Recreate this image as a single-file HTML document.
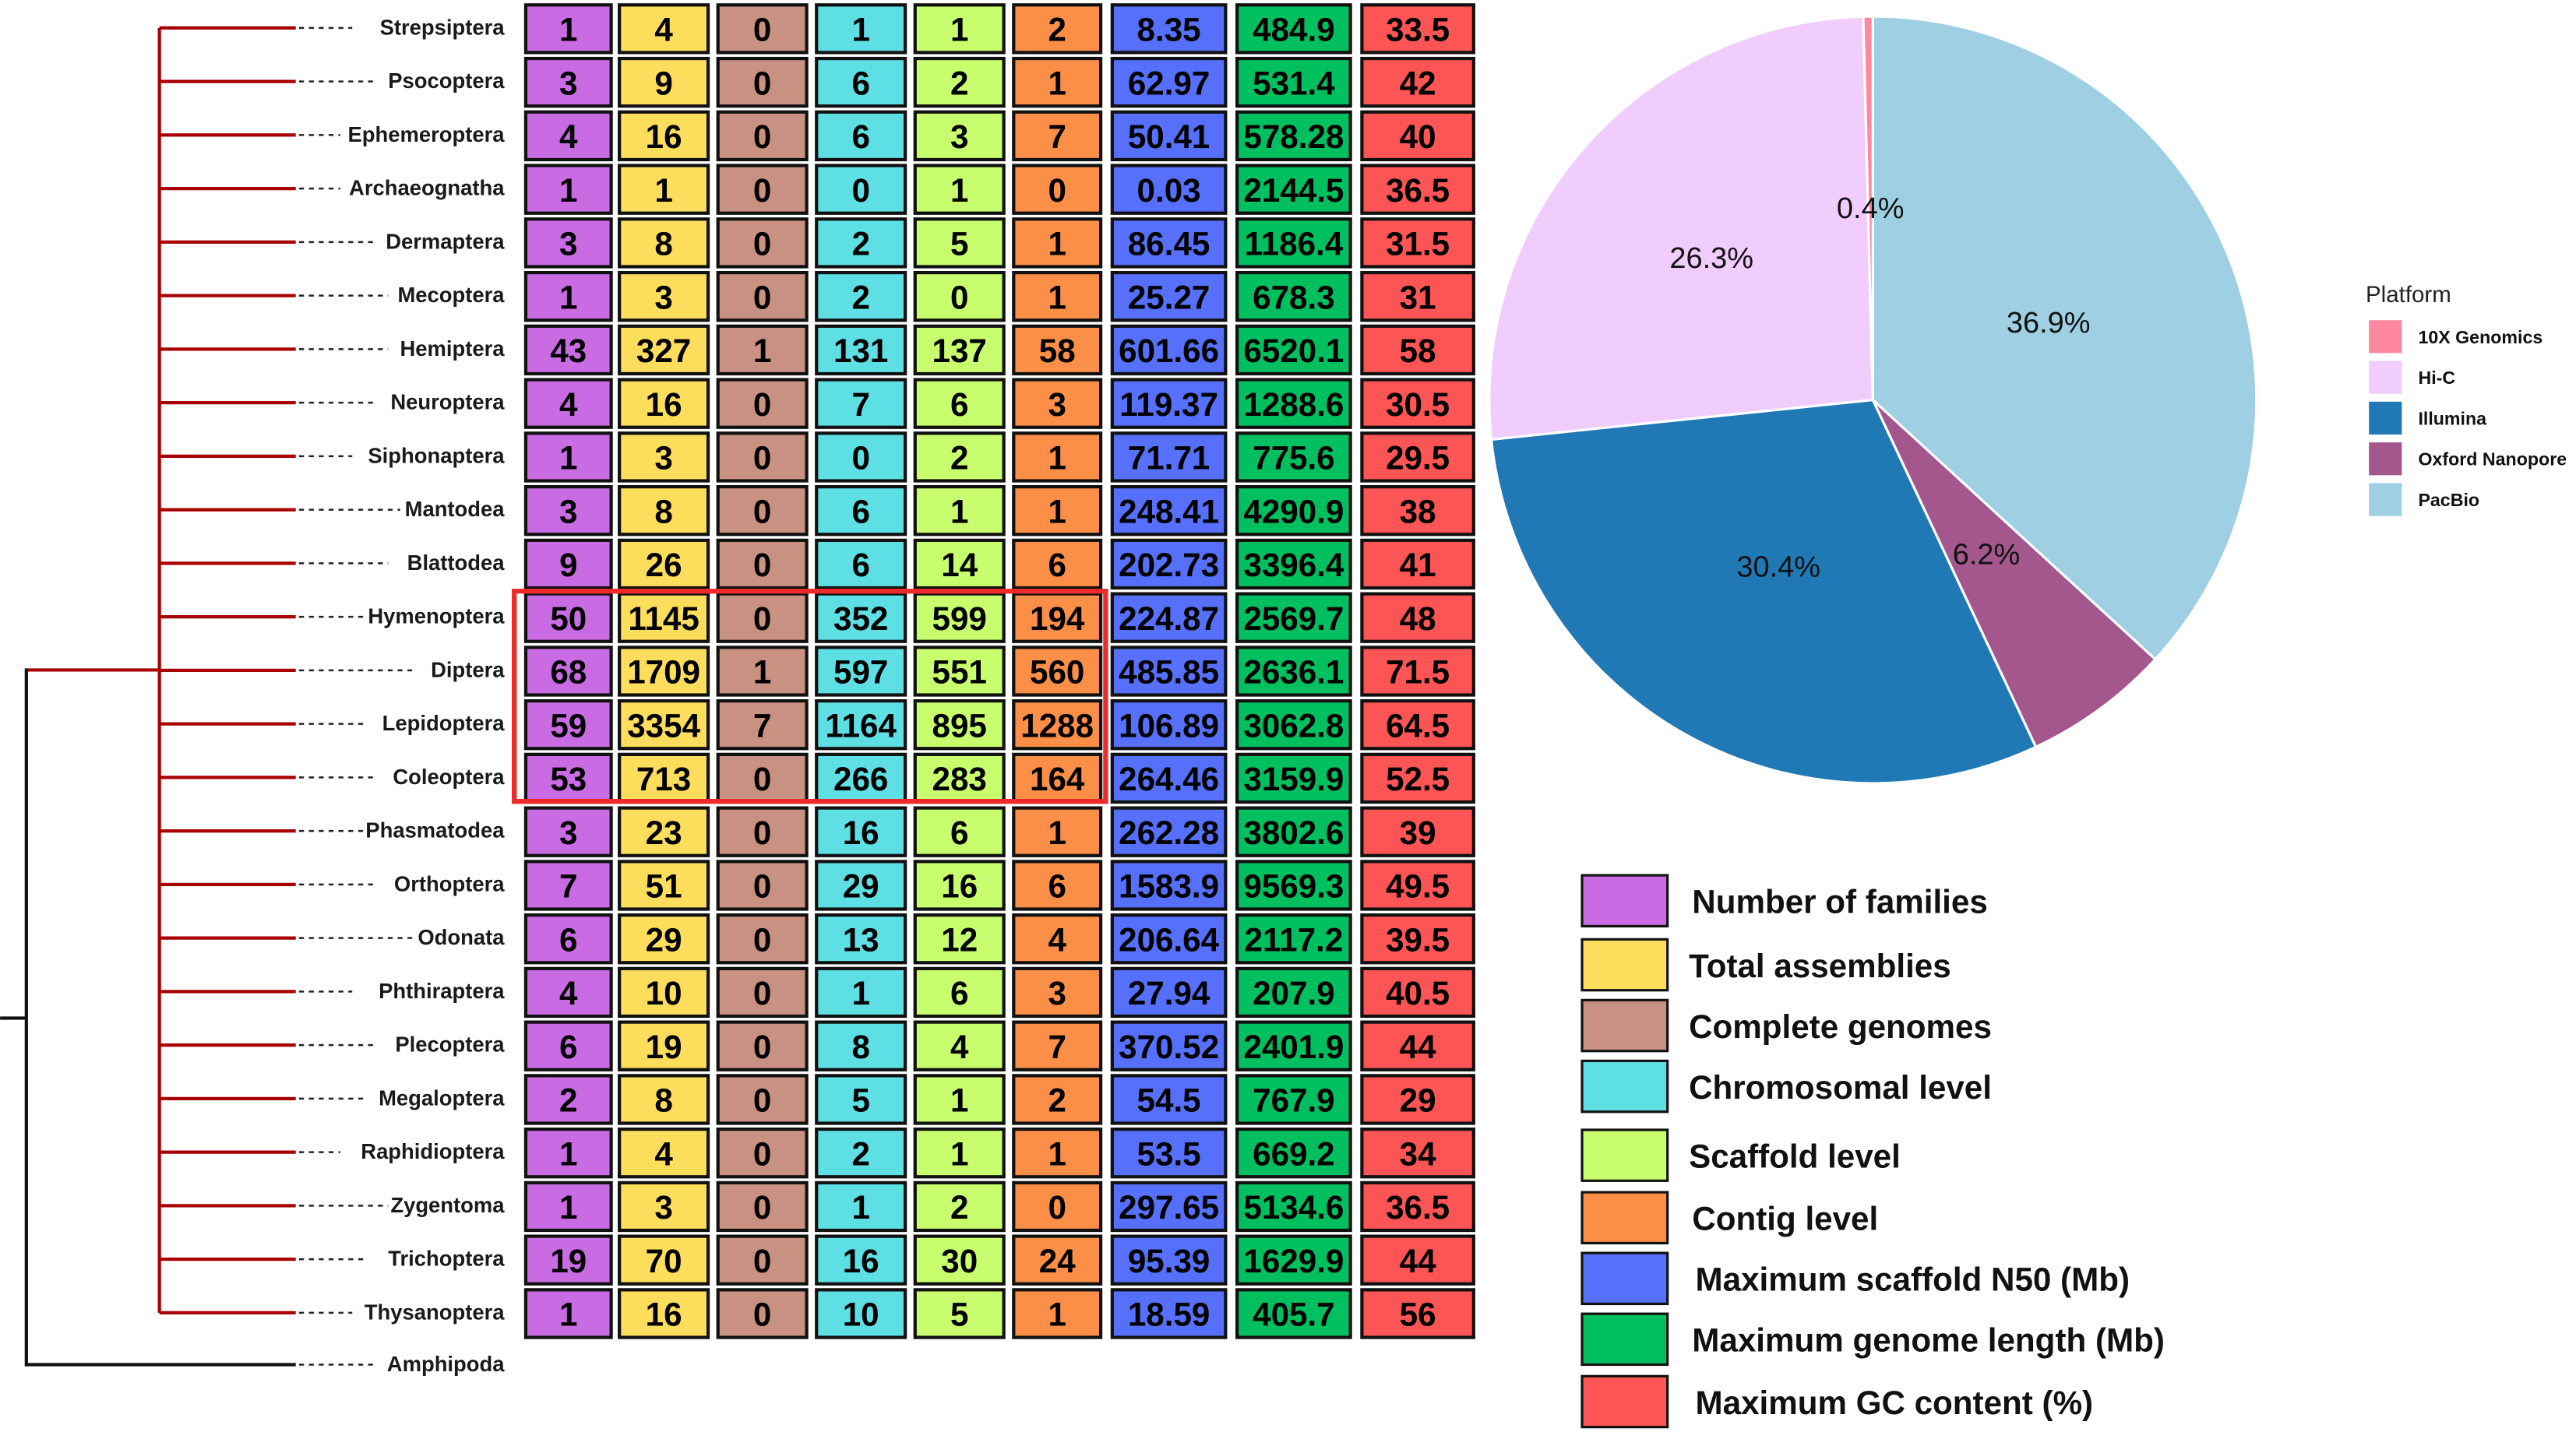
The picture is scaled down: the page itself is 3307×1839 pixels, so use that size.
<!DOCTYPE html>
<html><head><meta charset="utf-8"><style>
html,body{margin:0;padding:0;background:#fff;}
svg{display:block;}
text{font-family:"Liberation Sans",sans-serif;}
</style></head><body>
<svg id="fig" width="3307" height="1839" viewBox="0 0 1568 872" xmlns="http://www.w3.org/2000/svg">
<g id="tree"></g>
<g id="table"></g>
<rect x="313" y="360" width="360" height="128" fill="none" stroke="#ee2a2a" stroke-width="3"/>
<g id="pie"></g>
<g id="pielegend"></g>
<g id="tablelegend"></g>
</svg>
<script>
const orders = ["Strepsiptera","Psocoptera","Ephemeroptera","Archaeognatha","Dermaptera","Mecoptera","Hemiptera","Neuroptera","Siphonaptera","Mantodea","Blattodea","Hymenoptera","Diptera","Lepidoptera","Coleoptera","Phasmatodea","Orthoptera","Odonata","Phthiraptera","Plecoptera","Megaloptera","Raphidioptera","Zygentoma","Trichoptera","Thysanoptera"];
const families = ["1","3","4","1","3","1","43","4","1","3","9","50","68","59","53","3","7","6","4","6","2","1","1","19","1"];
const totalAssemblies = ["4","9","16","1","8","3","327","16","3","8","26","1145","1709","3354","713","23","51","29","10","19","8","4","3","70","16"];
const completeGenomes = ["0","0","0","0","0","0","1","0","0","0","0","0","1","7","0","0","0","0","0","0","0","0","0","0","0"];
const chromosomal = ["1","6","6","0","2","2","131","7","0","6","6","352","597","1164","266","16","29","13","1","8","5","2","1","16","10"];
const scaffold = ["1","2","3","1","5","0","137","6","2","1","14","599","551","895","283","6","16","12","6","4","1","1","2","30","5"];
const contig = ["2","1","7","0","1","1","58","3","1","1","6","194","560","1288","164","1","6","4","3","7","2","1","0","24","1"];
const scaffoldN50 = ["8.35","62.97","50.41","0.03","86.45","25.27","601.66","119.37","71.71","248.41","202.73","224.87","485.85","106.89","264.46","262.28","1583.9","206.64","27.94","370.52","54.5","53.5","297.65","95.39","18.59"];
const genomeLength = ["484.9","531.4","578.28","2144.5","1186.4","678.3","6520.1","1288.6","775.6","4290.9","3396.4","2569.7","2636.1","3062.8","3159.9","3802.6","9569.3","2117.2","207.9","2401.9","767.9","669.2","5134.6","1629.9","405.7"];
const gcContent = ["33.5","42","40","36.5","31.5","31","58","30.5","29.5","38","41","48","71.5","64.5","52.5","39","49.5","39.5","40.5","44","29","34","36.5","44","56"];
const columnNames = ["Number of families","Total assemblies","Complete genomes","Chromosomal level","Scaffold level","Contig level","Maximum scaffold N50 (Mb)","Maximum genome length (Mb)","Maximum GC content (%)"];
const platforms = ["PacBio","Oxford Nanopore","Illumina","Hi-C","10X Genomics"];
const platformShare = [36.9, 6.2, 30.4, 26.3, 0.4];
const platformLegendOrder = ["10X Genomics","Hi-C","Illumina","Oxford Nanopore","PacBio"];

const NS="http://www.w3.org/2000/svg";
function mk(tag, attrs, parent, txt){const e=document.createElementNS(NS,tag);for(const k in attrs)e.setAttribute(k,attrs[k]);if(txt!==undefined)e.textContent=txt;parent.appendChild(e);return e;}
const colors=["#c96ce3","#fcdd5c","#c99182","#5ddfe4","#c8fd6d","#fc8f47","#5670fb","#00bf5e","#fd5555"];
const colX=[320,377,437,497,557,617,677,753,829];
const colW=[52,54,54,54,54,53,69,69,68];
const rowY=i=>17+i*32.6;

// tree
const tree=document.getElementById('tree');
const v=mk('line',{x1:97,y1:rowY(0),x2:97,y2:rowY(24),stroke:'#a80000','stroke-width':2},tree);


orders.forEach((o,i)=>{
  const y=rowY(i);
  const b=mk('line',{x1:97,y1:y,x2:180,y2:y,stroke:'#a80000','stroke-width':2},tree);
  
  
  const w=o.length*7.3;
  mk('line',{x1:182,y1:y,x2:302-w,y2:y,stroke:'#222','stroke-width':1.2,'stroke-dasharray':'3,3'},tree);
  const t=mk('text',{x:307,y:y+4,'text-anchor':'end','font-size':13,'font-weight':'bold',fill:'#1a1a1a'},tree,o);
  
  
});
mk('line',{x1:16,y1:408,x2:97,y2:408,stroke:'#a80000','stroke-width':2},tree);
mk('line',{x1:16,y1:407,x2:16,y2:832,stroke:'#111','stroke-width':2},tree);
mk('line',{x1:16,y1:831,x2:180,y2:831,stroke:'#111','stroke-width':2},tree);
mk('line',{x1:0,y1:620,x2:16,y2:620,stroke:'#111','stroke-width':2},tree);
mk('line',{x1:182,y1:831,x2:230,y2:831,stroke:'#222','stroke-width':1.2,'stroke-dasharray':'3,3'},tree);
const am=mk('text',{x:307,y:835,'text-anchor':'end','font-size':13,'font-weight':'bold',fill:'#1a1a1a'},tree,'Amphipoda');



// table
const table=document.getElementById('table');
const cols=[families,totalAssemblies,completeGenomes,chromosomal,scaffold,contig,scaffoldN50,genomeLength,gcContent];
cols.forEach((arr,c)=>{
  arr.forEach((val,i)=>{
    const y=rowY(i);
    const r=mk('rect',{x:colX[c],y:y-14,width:colW[c],height:29,fill:colors[c],stroke:'#111','stroke-width':2},table);
    
    
    mk('text',{x:colX[c]+colW[c]/2,y:y+8,'text-anchor':'middle','font-size':20,'font-weight':'bold',fill:'#000'},table,val);
  });
});

// pie
const pie=document.getElementById('pie');
const pcol={"PacBio":"#9ecfe3","Oxford Nanopore":"#a3578c","Illumina":"#2079b4","Hi-C":"#f1cdfd","10X Genomics":"#fd88a0"};
const cx=1140,cy=243.5,R=233.5;
const tot=platformShare.reduce((a,b)=>a+b,0);
let acc=0;
const labR={"PacBio":0.5,"Oxford Nanopore":0.5,"Illumina":0.5,"Hi-C":0.56,"10X Genomics":0.5};
platforms.forEach((p,i)=>{
  const a0=acc/tot*2*Math.PI; acc+=platformShare[i]; const a1=acc/tot*2*Math.PI;
  const pt=a=>[cx+R*Math.sin(a),cy-R*Math.cos(a)];
  const [x0,y0]=pt(a0),[x1,y1]=pt(a1);
  const large=(a1-a0)>Math.PI?1:0;
  const s=mk('path',{d:`M${cx},${cy}L${x0},${y0}A${R},${R} 0 ${large} 1 ${x1},${y1}Z`,fill:pcol[p],stroke:'#fff','stroke-width':1.5},pie);
  
  
  const am=(a0+a1)/2, rr=R*labR[p];
  mk('text',{x:cx+rr*Math.sin(am),y:cy-rr*Math.cos(am)+6,'text-anchor':'middle','font-size':18,fill:'#111'},pie,platformShare[i].toFixed(1)+'%');
});

// pie legend
const pl=document.getElementById('pielegend');
const pt=mk('text',{x:1440,y:184,'font-size':14,fill:'#222'},pl,'Platform');


platformLegendOrder.forEach((p,i)=>{
  const y=195+i*24.8;
  const r=mk('rect',{x:1442,y:y,width:20,height:20,fill:pcol[p]},pl);
  
  
  mk('text',{x:1472,y:y+14,'font-size':11,'font-weight':'bold',fill:'#111'},pl,p);
});

// table legend
const tl=document.getElementById('tablelegend');
const legY=[549,588,625,662,704,742,779,816,854];
const legTX=[1030,1028,1028,1028,1028,1030,1032,1030,1032];
columnNames.forEach((n,i)=>{
  const r=mk('rect',{x:963,y:legY[i]-16,width:52,height:31,fill:colors[i],stroke:'#111','stroke-width':1.5},tl);
  
  
  mk('text',{x:legTX[i],y:legY[i]+7,'font-size':20,'font-weight':'bold',fill:'#111'},tl,n);
});
</script>
</body></html>
